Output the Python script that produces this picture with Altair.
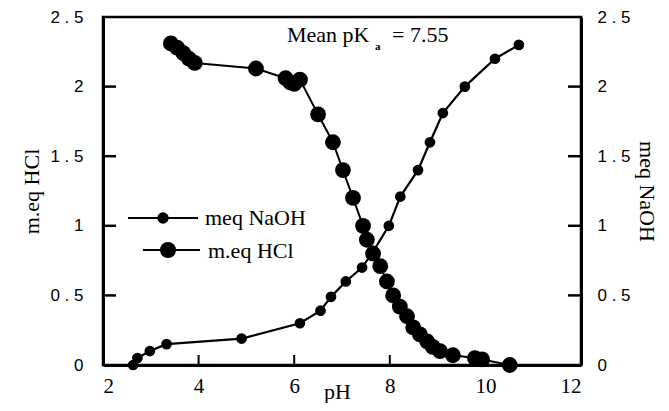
import altair as alt
import pandas as pd

# ---- data ----
ph_naoh = [2.63, 2.72, 2.98, 3.33, 4.90, 6.12, 6.55, 6.77, 7.08, 7.42, 7.66,
           7.98, 8.22, 8.59, 8.84, 9.11, 9.57, 10.20, 10.70]
meq_naoh = [0.00, 0.05, 0.10, 0.15, 0.19, 0.30, 0.39, 0.49, 0.60, 0.70, 0.82,
            1.00, 1.21, 1.40, 1.60, 1.81, 2.00, 2.20, 2.30]

ph_hcl = [3.42, 3.55, 3.68, 3.80, 3.92, 5.20, 5.82, 5.92, 6.00, 6.12, 6.50,
          6.81, 7.02, 7.23, 7.44, 7.52, 7.65, 7.80, 7.94, 8.07, 8.21, 8.36,
          8.49, 8.63, 8.78, 8.90, 9.05, 9.32, 9.78, 9.93, 10.51]
meq_hcl = [2.31, 2.28, 2.24, 2.20, 2.17, 2.13, 2.06, 2.03, 2.02, 2.05, 1.80,
           1.60, 1.40, 1.20, 1.00, 0.90, 0.80, 0.71, 0.60, 0.50, 0.42, 0.35,
           0.27, 0.22, 0.17, 0.13, 0.10, 0.07, 0.05, 0.04, 0.00]

x_ticks = [4, 6, 8, 10]
y_ticks = [0.5, 1.0, 1.5, 2.0]
x_labels = [2, 4, 6, 8, 10, 12]
y_labels = [0, 0.5, 1, 1.5, 2, 2.5]

W, H = 478, 348
SERIF = "Liberation Serif"
SANS = "Liberation Sans"

df_naoh = pd.DataFrame({"pH": ph_naoh, "v": meq_naoh, "i": range(len(ph_naoh))})
df_hcl = pd.DataFrame({"pH": ph_hcl, "v": meq_hcl, "i": range(len(ph_hcl))})
df_xt = pd.DataFrame({"t": x_ticks})
df_yt = pd.DataFrame({"t": y_ticks})

xscale = alt.Scale(domain=[2, 12], nice=False, zero=False)
yscale = alt.Scale(domain=[0, 2.5], nice=False, zero=False)

x_axis = alt.Axis(values=x_labels, ticks=False, grid=False, domainColor="black",
                  domainWidth=3, labelFont=SERIF, labelFontSize=21,
                  labelColor="black", labelPadding=10, title=None)

left_axis = alt.Axis(orient="left", values=y_labels, ticks=False, grid=False,
                     domainColor="black", domainWidth=3, labelFont=SANS,
                     labelFontSize=17, labelColor="black", labelPadding=20,
                     format=".1~f",
                     labelExpr="replace(datum.label, '.', ' . ')",
                     title="m.eq HCl", titleFont=SERIF, titleFontSize=22,
                     titleFontWeight="normal", titleColor="black", titlePadding=6)

right_axis = alt.Axis(orient="right", values=y_labels, ticks=False, grid=False,
                      domainColor="black", domainWidth=3, labelFont=SANS,
                      labelFontSize=17, labelColor="black", labelPadding=16,
                      format=".1~f",
                      labelExpr="replace(datum.label, '.', ' . ')",
                      title="meq NaOH", titleFont=SERIF, titleFontSize=22,
                      titleFontWeight="normal", titleColor="black", titlePadding=4)

hcl_line = alt.Chart(df_hcl).mark_line(color="black", strokeWidth=2).encode(
    x=alt.X("pH:Q", scale=xscale, axis=x_axis),
    y=alt.Y("v:Q", scale=yscale, axis=left_axis),
    order="i:Q",
)
hcl_pts = alt.Chart(df_hcl).mark_point(filled=True, color="black", opacity=1, size=250).encode(
    x=alt.X("pH:Q", scale=xscale),
    y=alt.Y("v:Q", scale=yscale, axis=None),
)
naoh_line = alt.Chart(df_naoh).mark_line(color="black", strokeWidth=2.2).encode(
    x=alt.X("pH:Q", scale=xscale),
    y=alt.Y("v:Q", scale=yscale, axis=right_axis),
    order="i:Q",
)
naoh_pts = alt.Chart(df_naoh).mark_point(filled=True, color="black", opacity=1, size=115).encode(
    x=alt.X("pH:Q", scale=xscale),
    y=alt.Y("v:Q", scale=yscale, axis=None),
)

# inward ticks
xt = alt.Chart(df_xt).mark_rule(color="black", strokeWidth=2).encode(
    x=alt.X("t:Q", scale=xscale), y=alt.value(H), y2=alt.value(H - 10))
ytl = alt.Chart(df_yt).mark_rule(color="black", strokeWidth=2.5).encode(
    y=alt.Y("t:Q", scale=yscale, axis=None), x=alt.value(0), x2=alt.value(13))
ytr = alt.Chart(df_yt).mark_rule(color="black", strokeWidth=2.5).encode(
    y=alt.Y("t:Q", scale=yscale, axis=None), x=alt.value(W), x2=alt.value(W - 13))

# legend
leg_rows = pd.DataFrame({"label": ["meq NaOH", "m.eq HCl"]}).head(1)
leg1_line = alt.Chart(leg_rows).mark_rule(color="black", strokeWidth=2).encode(
    x=alt.value(25), x2=alt.value(95), y=alt.value(201))
leg1_pt = alt.Chart(leg_rows).mark_point(filled=True, color="black", opacity=1, size=130).encode(
    x=alt.value(60), y=alt.value(201))
leg1_txt = alt.Chart(leg_rows).mark_text(align="left", baseline="alphabetic", font=SERIF,
                                         fontSize=22, color="black", text="meq NaOH").encode(
    x=alt.value(102), y=alt.value(208))
leg2_line = alt.Chart(leg_rows).mark_rule(color="black", strokeWidth=2).encode(
    x=alt.value(40), x2=alt.value(97), y=alt.value(233))
leg2_pt = alt.Chart(leg_rows).mark_point(filled=True, color="black", opacity=1, size=260).encode(
    x=alt.value(65), y=alt.value(233))
leg2_txt = alt.Chart(leg_rows).mark_text(align="left", baseline="alphabetic", font=SERIF,
                                         fontSize=22, color="black", text="m.eq HCl").encode(
    x=alt.value(105), y=alt.value(241))

# annotation
ann1 = alt.Chart(leg_rows).mark_text(align="left", baseline="alphabetic", font=SERIF,
                                     fontSize=22, color="black", text="Mean pK").encode(
    x=alt.value(184), y=alt.value(25))
ann2 = alt.Chart(leg_rows).mark_text(align="left", baseline="alphabetic", font=SERIF,
                                     fontSize=11, fontWeight="bold", color="black", text="a").encode(
    x=alt.value(272), y=alt.value(33))
ann3 = alt.Chart(leg_rows).mark_text(align="left", baseline="alphabetic", font=SERIF,
                                     fontSize=22, color="black", text="= 7.55").encode(
    x=alt.value(289), y=alt.value(25))
ph_txt = alt.Chart(leg_rows).mark_text(align="left", baseline="alphabetic", font=SERIF,
                                       fontSize=22, color="black", text="pH").encode(
    x=alt.value(221), y=alt.value(382))

chart = alt.layer(
    hcl_line, naoh_line, hcl_pts, naoh_pts, xt, ytl, ytr,
    leg1_line, leg1_pt, leg1_txt, leg2_line, leg2_pt, leg2_txt,
    ann1, ann2, ann3, ph_txt,
).resolve_scale(y="independent").properties(
    width=W, height=H,
    autosize=alt.AutoSizeParams(type="none"),
    padding={"left": 95, "top": 9, "right": 80, "bottom": 38},
    background="white",
).configure_view(stroke="black", strokeWidth=2.5)

chart.save("out.html", embed_options={"renderer": "svg", "actions": False})
